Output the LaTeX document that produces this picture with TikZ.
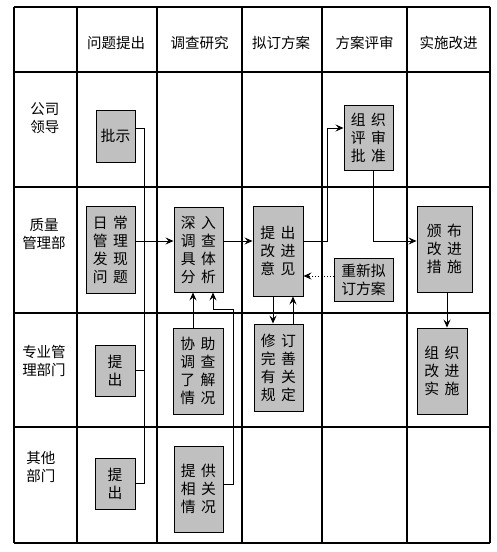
\documentclass[tikz,border=0pt]{standalone}
\usepackage{fontspec}
\newfontfamily\cjk{Noto Sans CJK SC}
\usetikzlibrary{arrows.meta}
\newcommand\gp{\hspace{5.5pt}}
\begin{document}
\begin{tikzpicture}[x=1pt,y=-1pt,
  grid/.style={line width=1.1pt,black},
  lbl/.style={font=\cjk\fontsize{14.5}{18}\selectfont,align=center,inner sep=0pt},
  box/.style={draw=black,line width=0.9pt,fill=boxgray,font=\cjk\fontsize{14.8}{18}\selectfont,align=center,inner sep=0pt},
  conn/.style={line width=0.9pt,black},
  arr/.style={conn,-{Stealth[length=8pt,width=7pt,inset=3pt]}}]
\definecolor{boxgray}{RGB}{192,192,192}
\fill[white] (0,0) rectangle (497,552);
\useasboundingbox (0,0) rectangle (497,552);
% grid
\foreach \x in {14,77,157,242,322,407,490} \draw[grid] (\x,7) -- (\x,543);
\foreach \y in {7,72,187,313,427,543} \draw[grid] (14,\y) -- (490,\y);
% headers
\node[lbl] (h1) at (116,43) {问题提出};
\node[lbl] (h2) at (199.5,43) {调查研究};
\node[lbl] (h3) at (281,43) {拟订方案};
\node[lbl] (h4) at (364.5,43) {方案评审};
\node[lbl] (h5) at (448.5,43) {实施改进};
% row labels
\node[lbl] (r1) at (45,118) {公司\\领导};
\node[lbl] (r2) at (44,234) {质量\\管理部};
\node[lbl] (r3) at (44,361) {专业管\\理部门};
\node[lbl] (r4) at (41,467) {其他\\部门};
% boxes
\node[box,minimum width=39pt,minimum height=52pt] (ps) at (115.5,136) {批示};
\node[box,minimum width=49pt,minimum height=65pt] (zz) at (368.5,137.5) {组\gp 织\\评\gp 审\\批\gp 准};
\node[box,minimum width=49pt,minimum height=87pt] (rc) at (110.5,249.5) {日\gp 常\\管\gp 理\\发\gp 现\\问\gp 题};
\node[box,minimum width=49pt,minimum height=85pt] (sr) at (198.5,249.5) {深\gp 入\\调\gp 查\\具\gp 体\\分\gp 析};
\node[box,minimum width=50pt,minimum height=90pt] (tg) at (278,251) {提\gp 出\\改\gp 进\\意\gp 见};
\node[box,minimum width=59pt,minimum height=43pt] (cx) at (363.5,279.5) {重新拟\\订方案};
\node[box,minimum width=55pt,minimum height=86pt] (bb) at (444.5,249) {颁\gp 布\\改\gp 进\\措\gp 施};
\node[box,minimum width=40pt,minimum height=51pt] (tc1) at (115,370.5) {提\\出};
\node[box,minimum width=50pt,minimum height=86pt] (xz) at (198,371) {协\gp 助\\调\gp 查\\了\gp 解\\情\gp 况};
\node[box,minimum width=40pt,minimum height=51pt] (tc2) at (115,483.5) {提\\出};
\node[box,minimum width=49pt,minimum height=86pt] (tq) at (198.5,489) {提\gp 供\\相\gp 关\\情\gp 况};
\node[box,minimum width=49pt,minimum height=87pt] (xd) at (278.5,367.5) {修\gp 订\\完\gp 善\\有\gp 关\\规\gp 定};
\node[box,minimum width=50pt,minimum height=86pt] (zs) at (442,371) {组\gp 织\\改\gp 进\\实\gp 施};
% connectors
\coordinate (j) at (144,241);
\draw[conn] ([yshift=8pt]ps.east) -| (j);
\draw[conn] (tc1.east) -| (j);
\draw[conn] (tc2.east) -| (j);
\draw[arr] (rc.east |- j) -- (sr.west |- j);
\draw[arr] (sr.east |- j) -- (tg.west |- j);
\draw[arr] ([xshift=-5pt]xz.north) -- ([xshift=-5pt]xz.north |- sr.south);
\coordinate (k1) at (233,309);
\draw[arr] ([yshift=5pt]tq.east) -| (k1) -| ([xshift=14.5pt]sr.south);
\coordinate (k2) at (327,241);
\draw[arr] (tg.east |- j) -- (k2) |- ([yshift=9.5pt]zz.west);
\draw[arr] ([xshift=4.5pt]zz.south) |- (bb.west |- j);
\draw[arr,dotted] ([yshift=3.5pt]cx.west) -- ([yshift=3.5pt]cx.west -| tg.east);
\draw[arr] ([xshift=-5pt]tg.south) -- ([xshift=-5pt]tg.south |- xd.north);
\draw[arr] ([xshift=15pt]tg.south |- xd.north) -- ([xshift=15pt]tg.south);
\draw[arr] ([xshift=2.5pt]bb.south) -- ([xshift=2.5pt]bb.south |- zs.north);
\end{tikzpicture}
\end{document}
